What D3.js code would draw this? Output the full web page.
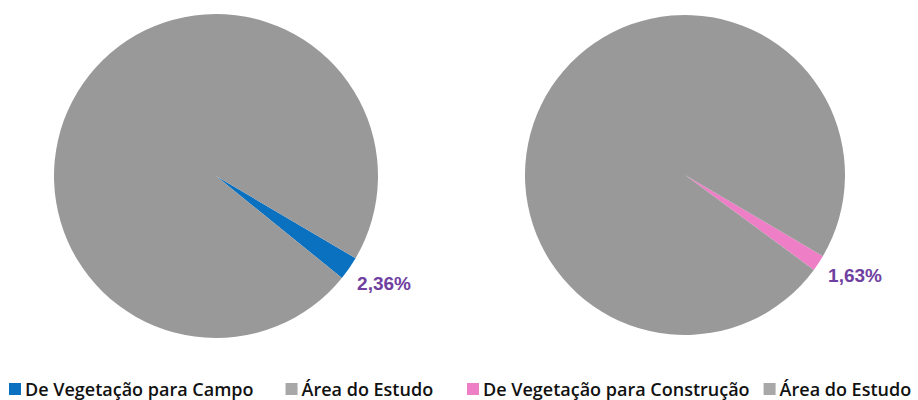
<!DOCTYPE html>
<html>
<head>
<meta charset="utf-8">
<script src="https://cdn.jsdelivr.net/npm/d3@7"></script>
<style>
  html, body { margin: 0; padding: 0; background: #ffffff; }
  svg { display: block; }
</style>
</head>
<body>
<svg id="chart" width="918" height="400"></svg>
<script>
// Data
const chartTitles = ["Campo", "Construção"];
const categoriesLeft = ["De Vegetação para Campo", "Área do Estudo"];
const valuesLeft = [2.36, 97.64];
const categoriesRight = ["De Vegetação para Construção", "Área do Estudo"];
const valuesRight = [1.63, 98.37];
const labelsLeft = ["2,36%"];
const labelsRight = ["1,63%"];

const svg = d3.select("#chart");
const W = 918, H = 400;

const pies = [
  { cats: categoriesLeft, vals: valuesLeft, labels: labelsLeft,
    cx: 216, cy: 176, r: 162, colors: ["#0a70c0", "#999999"],
    labelPos: [384, 283],
    legendX: 9, legendGap: 32 },
  { cats: categoriesRight, vals: valuesRight, labels: labelsRight,
    cx: 685, cy: 175, r: 160, colors: ["#ee7ec6", "#999999"],
    labelPos: [855, 275],
    legendX: 467, legendGap: 14 }
];

const startDeg = 120.5;

pies.forEach(p => {
  const pie = d3.pie().sort(null).value(d => d)
    .startAngle(startDeg * Math.PI / 180)
    .endAngle(startDeg * Math.PI / 180 + 2 * Math.PI);
  const arcs = pie(p.vals);
  const arc = d3.arc().innerRadius(0).outerRadius(p.r);
  const color = d3.scaleOrdinal().domain(p.cats).range(p.colors);

  const g = svg.append("g").attr("transform", `translate(${p.cx},${p.cy})`);
  g.selectAll("path")
    .data(arcs)
    .join("path")
    .attr("d", arc)
    .attr("fill", (d, i) => color(p.cats[i]));

  // percentage label
  svg.append("text")
    .attr("x", p.labelPos[0])
    .attr("y", p.labelPos[1])
    .attr("text-anchor", "middle")
    .attr("dominant-baseline", "central")
    .attr("font-family", "Liberation Sans, Arial, sans-serif")
    .attr("font-weight", "bold")
    .attr("font-size", 19)
    .attr("fill", "#7040a0")
    .text(p.labels[0]);

  // legend
  const lg = svg.append("g").attr("transform", `translate(${p.legendX},389)`);
  let x = 0;
  p.cats.forEach((c, i) => {
    lg.append("rect")
      .attr("x", x).attr("y", -6)
      .attr("width", 12).attr("height", 12)
      .attr("fill", i === 0 ? p.colors[0] : "#a8a8a8");
    const t = lg.append("text")
      .attr("x", x + 16).attr("y", 0)
      .attr("dominant-baseline", "central")
      .attr("font-family", "Open Sans, sans-serif")
      .attr("font-weight", 600)
      .attr("font-size", 18)
      .attr("fill", "#111111")
      .text(c);
    x += 16 + t.node().getComputedTextLength() + p.legendGap;
  });
});
</script>
</body>
</html>
